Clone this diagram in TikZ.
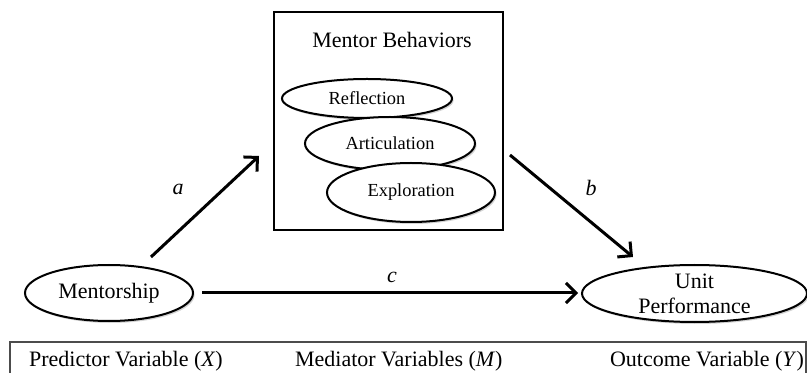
\documentclass[tikz,border=0pt]{standalone}
\usepackage{fontspec}
\setmainfont{Liberation Serif}
\usetikzlibrary{arrows.meta,shapes.geometric,shadows}
\begin{document}
\begin{tikzpicture}[x=0.5pt,y=-0.5pt,
  oval/.style={ellipse,draw=black,line width=1pt,fill=white,inner sep=0pt,
    drop shadow={opacity=0.35,shadow xshift=0.8pt,shadow yshift=-1pt}},
  bigtext/.style={font=\fontsize{11}{12.5}\selectfont},
  smalltext/.style={font=\fontsize{9.2}{11}\selectfont},
  arr/.style={line width=1.5pt,-{Straight Barb[length=5pt,width=10pt,line width=1.5pt]}},
  lbl/.style={font=\fontsize{11}{12.5}\selectfont\itshape},
  frameline/.style={draw=black!70,line width=1pt}]
\useasboundingbox (0,0) rectangle (807,373);
% bottom frame
\draw[frameline] (10,380) coordinate (fl) -- (10,342) coordinate (ftl) -- (806,342) coordinate (ftr) -- (806,380) coordinate (fr);
\node[bigtext,anchor=base west] (px) at (22,366) {Predictor Variable (\textit{X})};
\node[bigtext,anchor=base west] (mv) at (288,366) {Mediator Variables (\textit{M})};
\node[bigtext,anchor=base west] (ov) at (603,366) {Outcome Variable (\textit{Y})};
% mediator box
\node[draw=black,line width=1pt,minimum width=114.5pt,minimum height=109pt,inner sep=0pt] (beh) at (388.5,121) {};
\node[bigtext] (bt) at (392,40) {Mentor Behaviors};
\node[oval,smalltext,minimum width=85pt,minimum height=19.5pt] (refl) at (367,98.5) {Reflection};
\node[oval,smalltext,minimum width=85pt,minimum height=26.5pt] (artc) at (390,143.5) {Articulation};
\node[oval,smalltext,minimum width=84pt,minimum height=29.5pt] (expl) at (411,192.5) {Exploration};
% outer variables
\node[oval,bigtext,minimum width=84pt,minimum height=28pt] (ment) at (109,293) {Mentorship};
\node[oval,bigtext,minimum width=112.5pt,minimum height=28.5pt,align=center] (unit) at (694.5,293.5) {Unit\\Performance};
% arrows
\coordinate (aS) at (151,257);
\coordinate (aE) at (259,156);
\coordinate (bS) at (510,155);
\coordinate (bE) at (633,257);
\coordinate (cS) at (202,293);
\coordinate (cE) at (578,293);
\draw[arr] (aS) -- (aE);
\draw[arr] (bS) -- (bE);
\draw[arr] (cS) -- (cE);
\node[lbl] (la) at (178,189) {a};
\node[lbl] (lb) at (591,188) {b};
\node[lbl] (lc) at (392,277) {c};
\end{tikzpicture}
\end{document}
